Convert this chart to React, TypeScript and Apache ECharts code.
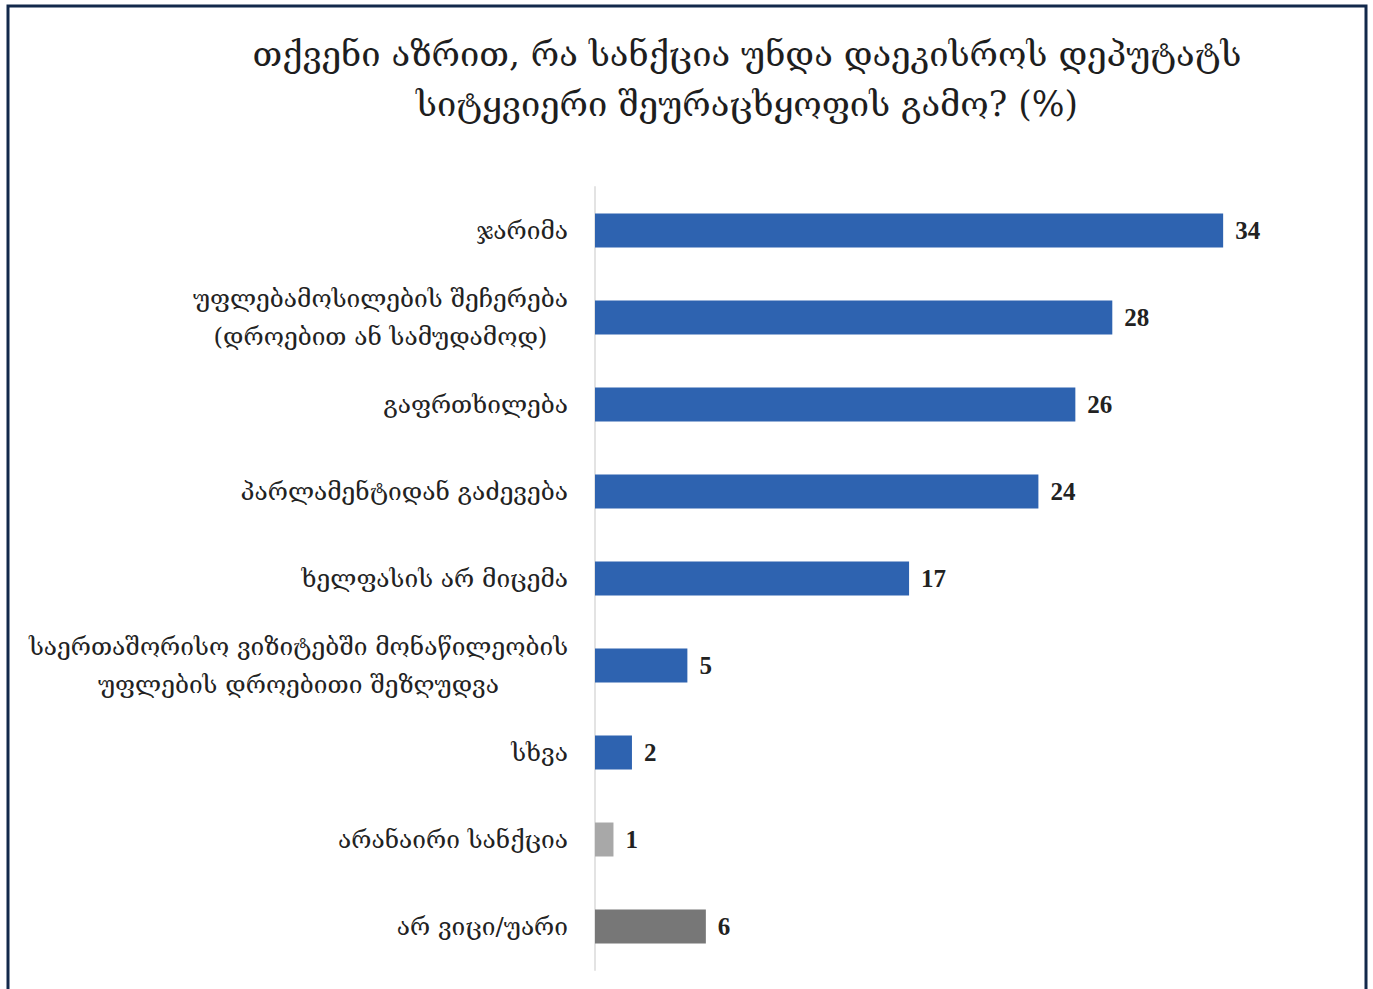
import React, { useEffect, useRef } from "react";
import * as echarts from "echarts";

const titleLines = [
  "თქვენი აზრით, რა სანქცია უნდა დაეკისროს დეპუტატს",
  "სიტყვიერი შეურაცხყოფის გამო? (%)",
];

const categories = [
  "ჯარიმა",
  "უფლებამოსილების შეჩერება\n(დროებით ან სამუდამოდ)",
  "გაფრთხილება",
  "პარლამენტიდან გაძევება",
  "ხელფასის არ მიცემა",
  "საერთაშორისო ვიზიტებში მონაწილეობის\nუფლების დროებითი შეზღუდვა",
  "სხვა",
  "არანაირი სანქცია",
  "არ ვიცი/უარი",
];

const values = [34, 28, 26, 24, 17, 5, 2, 1, 6];

const barColors = [
  "#2e63b0",
  "#2e63b0",
  "#2e63b0",
  "#2e63b0",
  "#2e63b0",
  "#2e63b0",
  "#2e63b0",
  "#a8a8a8",
  "#777777",
];

const GEO_FONT = "'DejaVu Serif', 'DejaVu Sans', serif";

export default function App() {
  const ref = useRef<HTMLDivElement>(null);

  useEffect(() => {
    if (!ref.current) return;
    const chart = echarts.init(ref.current, null, { renderer: "svg" });

    const option: any = {
      animation: false,
      backgroundColor: "#ffffff",
      title: {
        text: titleLines.join("\n"),
        left: 742,
        top: 24,
        textAlign: "center",
        textStyle: {
          fontFamily: GEO_FONT,
          fontSize: 34.5,
          fontWeight: "normal",
          color: "#1e1e1e",
          lineHeight: 50,
        },
      },
      grid: {
        left: 595,
        right: 39,
        top: 187,
        bottom: 19,
        containLabel: false,
      },
      xAxis: {
        type: "value",
        min: 0,
        max: 40,
        show: false,
      },
      yAxis: {
        type: "category",
        inverse: true,
        data: categories,
        axisLine: { show: true, lineStyle: { color: "#e3e3e3", width: 2 } },
        axisTick: { show: false },
        axisLabel: {
          margin: 27,
          formatter: (v: string) =>
            v
              .split("\n")
              .map((l) => "{c|" + l + "}")
              .join("\n"),
          rich: {
            c: {
              align: "center",
              fontFamily: GEO_FONT,
              fontSize: 24.5,
              lineHeight: 38,
              color: "#222222",
            },
          },
        },
      },
      series: [
        {
          type: "bar",
          barWidth: 34,
          data: values.map((v, i) => ({
            value: v,
            itemStyle: { color: barColors[i] },
          })),
          label: {
            show: true,
            position: "right",
            distance: 12,
            fontFamily: "'Liberation Serif', serif",
            fontWeight: "bold",
            fontSize: 25,
            color: "#222222",
          },
        },
      ],
      graphic: [
        {
          type: "polyline",
          shape: {
            points: [
              [8, 995],
              [8, 6],
              [1366, 6],
              [1366, 995],
            ],
          },
          style: { stroke: "#13294b", lineWidth: 3, fill: "none" },
        },
      ],
    };

    chart.setOption(option);
    return () => chart.dispose();
  }, []);

  return (
    <div
      ref={ref}
      style={{ position: "fixed", left: 0, top: 0, width: 1373, height: 989 }}
    />
  );
}
